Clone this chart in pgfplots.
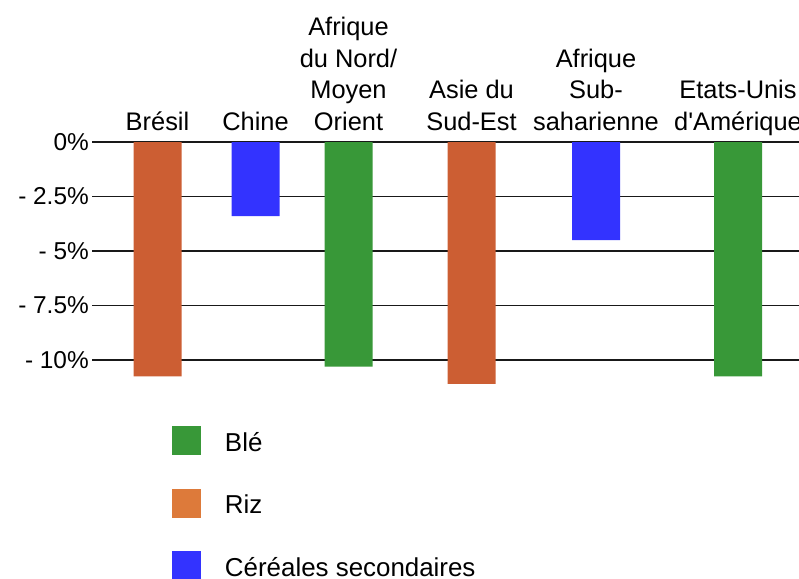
\documentclass[border=0pt]{standalone}
\usepackage{pgfplots}
\pgfplotsset{compat=1.18}
\usepackage{fontspec}
\setmainfont{Liberation Sans}
\definecolor{ble}{HTML}{389838}
\definecolor{riz}{HTML}{CC5E33}
\definecolor{rizleg}{HTML}{DD7A3A}
\definecolor{cereales}{HTML}{3333FF}
\begin{document}
\begin{tikzpicture}
\useasboundingbox (0,0) rectangle (799bp,-579bp);
\begin{axis}[
  at={(92bp,-142bp)}, anchor=north west,
  scale only axis, width=707bp, height=250.7bp,
  xmin=92, xmax=799, ymin=-11.5, ymax=0,
  ybar, bar width=48, bar shift=0pt,
  axis line style={draw=none},
  major tick length=0pt,
  ymajorgrids, grid style={black!90, line width=1.3bp},
  ytick={-10,-7.5,-5,-2.5,0},
  yticklabels={- 10\%, - 7.5\%, - 5\%, - 2.5\%, 0\%},
  xtick={157.5,255.5,348.5,471.5,596,738},
  xticklabels={Brésil, Chine, {Afrique\\du Nord/\\Moyen\\Orient}, {Asie du\\Sud-Est}, {Afrique\\Sub-\\saharienne}, {Etats-Unis\\d\textquotesingle Amérique}},
  xticklabel pos=upper,
  tick label style={inner sep=0pt},
  xticklabel style={font=\fontsize{25.5}{32}\selectfont, align=center, anchor=south, text depth=6bp, yshift=5bp},
  yticklabel style={font=\fontsize{24.5}{30}\selectfont, anchor=east, xshift=-3bp},
  legend cell align=left,
  legend style={at={(axis description cs:0.11315,-0.1328)}, anchor=north west,
    draw=none, fill=none, inner sep=0pt, outer sep=0pt,
    row sep=33.5bp, column sep=24bp,
    nodes={inner sep=0pt, anchor=base west, font=\fontsize{26}{30}\selectfont}},
]
\addplot[fill=ble, draw=none, bar shift=0pt,
  legend image code/.code={\fill[ble] (0bp,-4bp) rectangle (29bp,25bp);}]
  coordinates {(348.5,-10.3) (738,-10.75)};
\addlegendentry{Blé}
\addplot[fill=riz, draw=none, bar shift=0pt,
  legend image code/.code={\fill[rizleg] (0bp,-4bp) rectangle (29bp,25bp);}]
  coordinates {(157.5,-10.75) (471.5,-11.1)};
\addlegendentry{Riz}
\addplot[fill=cereales, draw=none, bar shift=0pt,
  legend image code/.code={\fill[cereales] (0bp,-4bp) rectangle (29bp,25bp);}]
  coordinates {(255.5,-3.4) (596,-4.5)};
\addlegendentry{Céréales secondaires}
\end{axis}
\end{tikzpicture}
\end{document}
